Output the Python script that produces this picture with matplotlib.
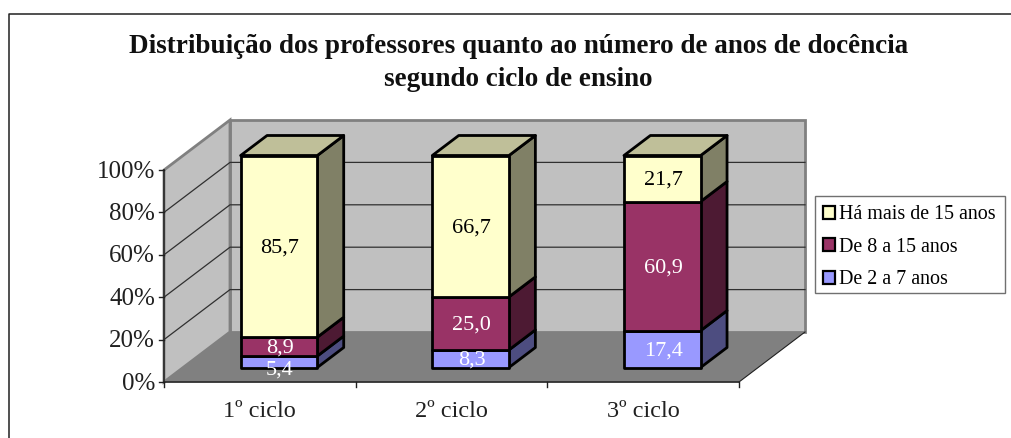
import matplotlib
matplotlib.use('Agg')
import matplotlib.pyplot as plt
from matplotlib.patches import Polygon, Patch, Rectangle

plt.rcParams['font.family'] = ['Liberation Serif', 'DejaVu Serif']

ciclos = ['1º ciclo', '2º ciclo', '3º ciclo']
series = ['De 2 a 7 anos', 'De 8 a 15 anos', 'Há mais de 15 anos']
de_2_a_7 = [5.4, 8.3, 17.4]
de_8_a_15 = [8.9, 25.0, 60.9]
mais_15 = [85.7, 66.7, 21.7]
ticks = [0, 20, 40, 60, 80, 100]
titulo = ['Distribuição dos professores quanto ao número de anos de docência',
          'segundo ciclo de ensino']

# cores: frente, lateral, topo
frente = ['#9999FF', '#993366', '#FFFFCC']
lateral = ['#4D4D80', '#4D1A33', '#808066']
topo = '#BFBF99'
texto_cor = ['white', 'white', 'black']

# geometria da caixa 3D em pixels
X0, Y0 = 164, 382
LARG, ALT = 575, 212
DX, DY = 66, 50
D_FRENTE, D_FUNDO = 0.29, 0.69
BAR = 0.40


def proj(cat, val, d=0.0):
    return (X0 + cat * LARG / 3 + d * DX, Y0 - val / 100 * ALT - d * DY)


fig = plt.figure(figsize=(10.12, 4.38), dpi=100)
ax = fig.add_axes([0, 0, 1, 1])
ax.set_xlim(0, 1012)
ax.set_ylim(438, 0)
ax.axis('off')

# moldura (so esquerda e topo)
ax.plot([9.5, 9.5, 1012], [438, 14, 14], color='#202020', lw=1.1, zorder=1)

# paredes e chao
ax.add_patch(Polygon([proj(0, 0, 1), proj(3, 0, 1), proj(3, 100, 1), proj(0, 100, 1)],
                     fc='#C0C0C0', ec='#808080', lw=2, zorder=2))
ax.add_patch(Polygon([proj(0, 0), proj(0, 0, 1), proj(0, 100, 1), proj(0, 100)],
                     fc='#C0C0C0', ec='#808080', lw=2, zorder=2))
for t in ticks[1:-1]:
    a, b, c = proj(0, t), proj(0, t, 1), proj(3, t, 1)
    ax.plot([a[0], b[0], c[0]], [a[1], b[1], c[1]], color='#303030', lw=0.9, zorder=3)
ax.add_patch(Polygon([proj(0, 0), proj(3, 0), proj(3, 0, 1), proj(0, 0, 1)],
                     fc='#808080', ec='none', zorder=3))
fa, fb = proj(3, 0), proj(3, 0, 1)
ax.plot([fa[0], fb[0]], [fa[1], fb[1]], color='#202020', lw=0.8, zorder=3)

# eixos
ax.plot([X0, X0], [proj(0, 100)[1], Y0], color='#303030', lw=1.3, zorder=4)
ax.plot([X0, X0 + LARG], [Y0, Y0], color='#303030', lw=1.3, zorder=4)
for t in ticks:
    x, y = proj(0, t)
    ax.plot([x - 5, x], [y, y], color='#202020', lw=1, zorder=4)
    ax.text(x - 9, y + 1.5, f'{t}%', ha='right', va='center', fontsize=18, color='#202020')
for i in range(4):
    x, y = proj(i, 0)
    ax.plot([x, x], [y, y + 5], color='#202020', lw=1, zorder=4)
for i, nome in enumerate(ciclos):
    x, y = proj(i + 0.5, 0)
    ax.text(x, y + 29.5, nome, ha='center', va='center', fontsize=17.5, color='#202020')

# barras empilhadas
valores = [de_2_a_7, de_8_a_15, mais_15]
for i in range(len(ciclos)):
    esq, dir_ = i + 0.5 - BAR / 2, i + 0.5 + BAR / 2
    base = 0
    for s in range(3):
        v = valores[s][i]
        top = base + v
        ax.add_patch(Polygon([proj(dir_, base, D_FRENTE), proj(dir_, base, D_FUNDO),
                              proj(dir_, top, D_FUNDO), proj(dir_, top, D_FRENTE)],
                             fc=lateral[s], ec='black', lw=2, joinstyle='round', zorder=5))
        ax.add_patch(Polygon([proj(esq, base, D_FRENTE), proj(dir_, base, D_FRENTE),
                              proj(dir_, top, D_FRENTE), proj(esq, top, D_FRENTE)],
                             fc=frente[s], ec='black', lw=2, joinstyle='round', zorder=6))
        lx, ly = proj(i + 0.5, base + v / 2, D_FRENTE)
        # o rotulo 5,4 sai um pouco abaixo do segmento no original
        if v == 5.4:
            ly += 7
        ax.text(lx + 1, ly + 1.5, f'{v:.1f}'.replace('.', ','), ha='center', va='center',
                fontsize=16, color=texto_cor[s], zorder=8)
        base = top
    ax.add_patch(Polygon([proj(esq, base, D_FRENTE), proj(dir_, base, D_FRENTE),
                          proj(dir_, base, D_FUNDO), proj(esq, base, D_FUNDO)],
                         fc=topo, ec='black', lw=2, joinstyle='round', zorder=7))

# titulo
ax.text(518.5, 46.5, titulo[0], ha='center', va='center', fontsize=19.5,
        fontweight='bold', color='#101010')
ax.text(518.5, 80, titulo[1], ha='center', va='center', fontsize=19.5,
        fontweight='bold', color='#101010')

# legenda: caixa desenhada a parte para acertar a altura
ax.add_patch(Rectangle((815, 196), 190, 97, fc='white', ec='#707070', lw=1.0, zorder=8))
handles = [Patch(fc=frente[s], ec='black', lw=1.6) for s in (2, 1, 0)]
leg = ax.legend(handles, [series[s] for s in (2, 1, 0)], loc='upper left',
                bbox_to_anchor=(815 / 1012, 1 - 197 / 438), fontsize=14.4,
                borderaxespad=0, frameon=False,
                handlelength=0.6, handleheight=0.6, handletextpad=0.2,
                labelspacing=0.67, borderpad=0.42)
leg.set_zorder(9)

fig.savefig('out.png', dpi=100)
